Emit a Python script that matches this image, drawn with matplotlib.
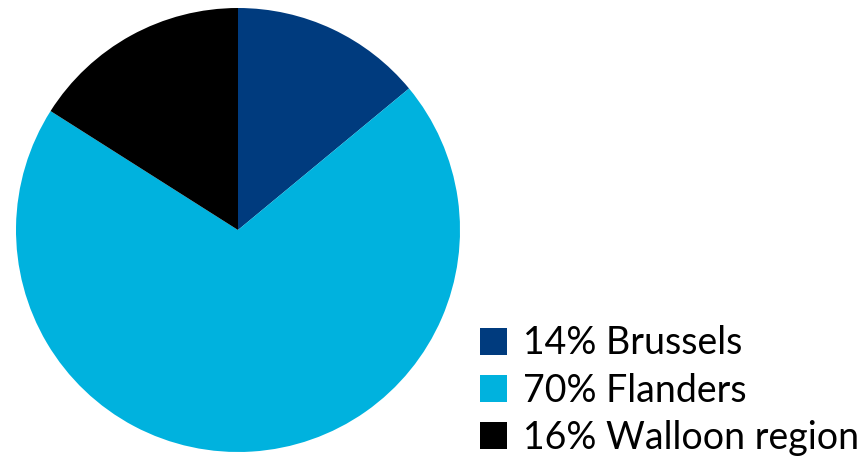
import matplotlib
matplotlib.use('Agg')
import matplotlib.pyplot as plt
from matplotlib.patches import Patch

labels = ['Brussels', 'Flanders', 'Walloon region']
shares = [14, 70, 16]
colors = ['#003B7E', '#00B2DE', '#000000']

W, H = 868, 465
fig = plt.figure(figsize=(W / 100, H / 100), dpi=100)
ax = fig.add_axes([0, 0, 1, 1])

# pie centre / radius in pixel units
ax.pie(shares, colors=colors, startangle=90, counterclock=False,
       center=(238, H - 230), radius=222, frame=True)
ax.set_xlim(0, W)
ax.set_ylim(0, H)
ax.set_aspect('equal')
ax.axis('off')

handles = [Patch(facecolor=c, edgecolor='none') for c in colors]
texts = ['%d%% %s' % (s, l) for s, l in zip(shares, labels)]
leg = fig.legend(handles, texts, loc='lower left', bbox_to_anchor=(454 / W, -17 / H),
                 frameon=False, prop={'family': 'Lato', 'size': 27},
                 handlelength=0.72, handleheight=0.72,
                 handletextpad=0.42, labelspacing=0.3, borderpad=0.2)

fig.savefig('out.png', dpi=100)
